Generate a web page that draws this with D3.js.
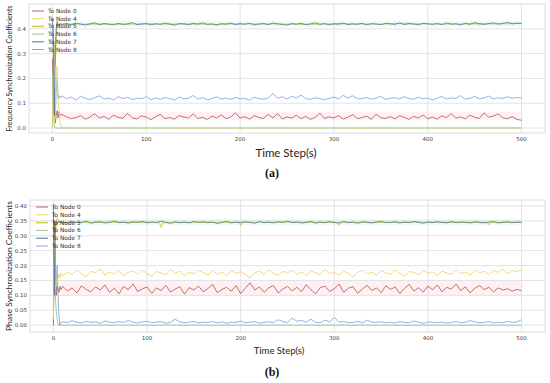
<!DOCTYPE html>
<html>
<head>
<meta charset="utf-8">
<script src="https://cdn.jsdelivr.net/npm/d3@7"></script>
<style>
body { margin: 0; background: #fff; }
svg { display: block; }
</style>
</head>
<body>
<div id="main"></div>
<script>
// time steps: fine near the start, then every 5 steps
var steps = [0,1,2,3,4,5,6,7,8,9].concat(d3.range(10, 501, 5));
var coarseSteps = [0,1,2,3,4,5,6,8,10].concat(d3.range(25, 501, 25));
var node5bSteps = [0,2,4,6,8,10,50,100,113,115,117,150,198,200,202,250,300,303,305,307,350,400,450,463,465,467,500];

var nodeNames = ["To Node 0","To Node 4","To Node 5","To Node 6","To Node 7","To Node 8"];
var nodeColors = ["#b5625c","#e8d86a","#c9d244","#9ec58e","#4f6f9c","#80aae2"];

var xTicks = [0,100,200,300,400,500];
var yTicksA = [0,0.1,0.2,0.3,0.4];
var yTicksB = [0,0.05,0.1,0.15,0.2,0.25,0.3,0.35,0.4];

// ---- panel (a): frequency ----
var freqNode0 = [0.28,0.12,0.03,0.02,0.05,0.07,0.04,0.065,0.05,0.055,
0.055,0.045,0.038,0.042,0.05,0.036,0.044,0.058,0.04,0.047,
0.035,0.052,0.043,0.039,0.06,0.041,0.037,0.049,0.044,0.034,
0.046,0.055,0.038,0.042,0.036,0.05,0.045,0.04,0.057,0.039,
0.043,0.035,0.048,0.041,0.053,0.038,0.044,0.062,0.04,0.046,
0.036,0.05,0.042,0.039,0.055,0.041,0.058,0.037,0.045,0.04,
0.052,0.038,0.047,0.035,0.043,0.06,0.039,0.045,0.041,0.05,
0.036,0.044,0.054,0.038,0.042,0.048,0.035,0.056,0.041,0.039,
0.046,0.037,0.05,0.043,0.035,0.047,0.04,0.053,0.038,0.044,
0.036,0.049,0.042,0.058,0.04,0.045,0.037,0.052,0.043,0.039,
0.061,0.044,0.048,0.057,0.041,0.038,0.046,0.035,0.031];
var freqNode4 = [0.10,0.05,0.02,0.08,0.20,0.25,0.12,0.02,0.003,
0.002,0.001,0.003,0.001,0.002,0.0,0.002,0.001,0.003,0.002,0.001,0.002,0.0,0.003,0.001,0.002,0.001,0.002,0.003,0.001];
var freqNode5 = [0.0,0.18,0.35,0.25,0.38,0.42,0.41,0.42,0.418,
0.419,0.42,0.418,0.421,0.419,0.42,0.417,0.421,0.42,0.419,0.418,0.421,0.42,0.419,0.422,0.42,0.419,0.421,0.42,0.422];
var freqNode6 = [0.22,0.10,0.01,0.0,0.0,0.0,0.0,0.0,0.0,
0,0,0,0,0,0,0,0,0,0,0,0,0,0,0,0,0,0,0,0];
var freqNode7 = [0.44,0.38,0.05,0.30,0.40,0.43,0.42,0.415,0.42,0.418,
0.418,0.421,0.416,0.423,0.419,0.415,0.42,0.424,0.417,0.421,
0.419,0.416,0.422,0.418,0.42,0.425,0.417,0.419,0.421,0.416,
0.42,0.418,0.423,0.419,0.415,0.421,0.42,0.417,0.422,0.419,
0.424,0.418,0.42,0.416,0.421,0.419,0.423,0.417,0.42,0.418,
0.422,0.416,0.419,0.421,0.417,0.423,0.42,0.418,0.415,0.421,
0.419,0.422,0.417,0.42,0.424,0.418,0.421,0.416,0.42,0.419,
0.423,0.417,0.42,0.418,0.422,0.416,0.421,0.419,0.417,0.422,
0.42,0.418,0.424,0.417,0.421,0.419,0.416,0.422,0.42,0.418,
0.421,0.417,0.423,0.419,0.42,0.416,0.422,0.418,0.425,0.42,
0.418,0.421,0.424,0.419,0.422,0.426,0.42,0.423,0.421];
var freqNode8 = [0.40,0.30,0.06,0.05,0.15,0.20,0.12,0.13,0.12,0.125,
0.13,0.118,0.125,0.112,0.128,0.12,0.115,0.122,0.13,0.117,
0.121,0.113,0.126,0.119,0.124,0.115,0.12,0.118,0.127,0.114,
0.121,0.116,0.123,0.119,0.113,0.125,0.118,0.12,0.131,0.116,
0.122,0.114,0.119,0.126,0.117,0.121,0.115,0.123,0.118,0.12,
0.112,0.124,0.119,0.116,0.121,0.139,0.12,0.126,0.117,0.128,
0.121,0.133,0.118,0.116,0.122,0.119,0.114,0.12,0.125,0.117,
0.132,0.121,0.13,0.118,0.119,0.123,0.116,0.121,0.128,0.115,
0.12,0.122,0.117,0.126,0.119,0.116,0.124,0.118,0.121,0.113,
0.12,0.127,0.117,0.122,0.119,0.131,0.116,0.12,0.127,0.118,
0.121,0.129,0.117,0.122,0.119,0.126,0.12,0.123,0.121];
var freqBands = [[0.032,0.065,"#fff0f3"],[0.408,0.432,"#ecfcfc"]];

// ---- panel (b): phase ----
var phaseNode0 = [0.0,0.35,0.15,0.10,0.13,0.12,0.11,0.13,0.12,0.125,
0.13,0.115,0.125,0.108,0.132,0.12,0.112,0.128,0.118,0.135,
0.11,0.124,0.105,0.13,0.119,0.138,0.113,0.122,0.128,0.107,
0.125,0.116,0.134,0.111,0.121,0.129,0.104,0.126,0.118,0.131,
0.112,0.123,0.137,0.109,0.12,0.127,0.114,0.133,0.106,0.124,
0.142,0.118,0.128,0.11,0.125,0.133,0.108,0.121,0.13,0.115,
0.127,0.112,0.136,0.119,0.105,0.126,0.131,0.113,0.122,0.138,
0.11,0.124,0.129,0.107,0.121,0.134,0.116,0.125,0.109,0.132,
0.12,0.128,0.106,0.123,0.137,0.114,0.126,0.111,0.131,0.119,
0.135,0.112,0.127,0.121,0.138,0.116,0.129,0.108,0.124,0.133,
0.119,0.127,0.112,0.125,0.118,0.122,0.114,0.12,0.116];
var phaseNode4 = [0.02,0.30,0.12,0.14,0.16,0.15,0.17,0.16,0.175,0.17,
0.165,0.178,0.17,0.185,0.172,0.163,0.181,0.176,0.188,0.168,
0.179,0.171,0.184,0.166,0.177,0.182,0.17,0.186,0.173,0.164,
0.18,0.175,0.169,0.187,0.174,0.181,0.166,0.178,0.172,0.185,
0.176,0.168,0.183,0.171,0.179,0.165,0.184,0.173,0.18,0.169,
0.158,0.176,0.182,0.17,0.186,0.174,0.167,0.18,0.176,0.184,
0.171,0.179,0.166,0.183,0.175,0.17,0.187,0.173,0.178,0.168,
0.181,0.174,0.162,0.177,0.185,0.171,0.179,0.167,0.183,0.176,
0.17,0.186,0.173,0.164,0.18,0.177,0.169,0.184,0.174,0.179,
0.166,0.182,0.175,0.171,0.187,0.173,0.178,0.168,0.185,0.176,
0.181,0.17,0.184,0.177,0.188,0.172,0.183,0.179,0.186];
var phaseNode5 = [0.05,0.30,0.36,0.345,0.346,0.345,0.345,0.346,0.345,0.328,0.344,0.345,0.345,0.335,0.345,
0.346,0.345,0.344,0.336,0.345,0.345,0.346,0.345,0.344,0.337,0.345,0.345];
var phaseNode6 = [0.30,0.20,0.10,0.05,0.02,0.0,0.0,0.0,0.0,
0,0,0,0,0,0,0,0,0,0,0,0,0,0,0,0,0,0,0,0];
var phaseNode7 = [0.40,0.10,0.33,0.35,0.34,0.345,0.35,0.344,0.346,0.343,
0.346,0.343,0.348,0.344,0.345,0.349,0.342,0.346,0.347,0.343,
0.345,0.35,0.344,0.346,0.342,0.347,0.345,0.348,0.343,0.346,
0.344,0.349,0.345,0.342,0.347,0.344,0.346,0.343,0.348,0.345,
0.347,0.344,0.346,0.341,0.345,0.348,0.343,0.346,0.344,0.347,
0.345,0.342,0.348,0.344,0.346,0.343,0.347,0.345,0.349,0.344,
0.346,0.343,0.345,0.348,0.342,0.346,0.344,0.347,0.345,0.343,
0.348,0.344,0.346,0.342,0.347,0.345,0.343,0.346,0.349,0.344,
0.345,0.347,0.343,0.346,0.344,0.348,0.345,0.342,0.346,0.344,
0.347,0.345,0.343,0.348,0.344,0.346,0.345,0.343,0.347,0.345,
0.344,0.346,0.348,0.343,0.345,0.347,0.344,0.346,0.345];
var phaseNode8 = [0.38,0.30,0.20,0.12,0.20,0.10,0.03,0.0,0.01,0.008,
0.012,0.008,0.015,0.01,0.007,0.013,0.009,0.011,0.006,0.014,
0.01,0.008,0.012,0.009,0.016,0.01,0.007,0.011,0.013,0.008,
0.01,0.012,0.006,0.009,0.02,0.011,0.008,0.01,0.013,0.007,
0.01,0.009,0.012,0.008,0.011,0.006,0.01,0.009,0.014,0.008,
0.01,0.012,0.007,0.009,0.011,0.008,0.018,0.012,0.009,0.024,
0.013,0.016,0.01,0.02,0.009,0.008,0.017,0.011,0.026,0.01,
0.012,0.008,0.009,0.013,0.007,0.017,0.01,0.009,0.011,0.008,
0.01,0.007,0.012,0.009,0.008,0.014,0.01,0.006,0.011,0.009,
0.008,0.01,0.007,0.009,0.012,0.008,0.01,0.015,0.011,0.008,
0.009,0.012,0.007,0.01,0.008,0.013,0.009,0.011,0.018];
var phaseBands = [[0.10,0.148,"#fff0f3"],[0.336,0.356,"#ecfcfc"]];

var svg = d3.select("#main").append("svg").attr("width", 550).attr("height", 383);

function draw_panel(opt){
	var x = d3.scaleLinear().domain([-25, 525]).range([opt.left, opt.right]);
	var y = d3.scaleLinear().domain(opt.yDomain).range([opt.bottom, opt.top]);
	var g = svg.append("g");

	// faint bands behind the lines
	g.selectAll(".band").data(opt.bands).enter().append("rect")
		.attr("x", x(8)).attr("width", x(500) - x(8))
		.attr("y", function(d){ return y(d[1]); })
		.attr("height", function(d){ return y(d[0]) - y(d[1]); })
		.attr("fill", function(d){ return d[2]; });

	// grid
	g.selectAll(".vg").data(xTicks).enter().append("line")
		.attr("x1", function(d){ return x(d); }).attr("x2", function(d){ return x(d); })
		.attr("y1", opt.top).attr("y2", opt.bottom)
		.attr("stroke", "#dcdcdc").attr("stroke-width", 0.8);
	g.selectAll(".hg").data(opt.yTicks).enter().append("line")
		.attr("y1", function(d){ return y(d); }).attr("y2", function(d){ return y(d); })
		.attr("x1", opt.left).attr("x2", opt.right)
		.attr("stroke", "#dcdcdc").attr("stroke-width", 0.8);

	// frame
	g.append("rect").attr("x", opt.left).attr("y", opt.top)
		.attr("width", opt.right - opt.left).attr("height", opt.bottom - opt.top)
		.attr("fill", "none").attr("stroke", "#d4d4d4").attr("stroke-width", 0.8);

	// tick labels
	g.selectAll(".xt").data(xTicks).enter().append("text")
		.attr("x", function(d){ return x(d); }).attr("y", opt.bottom + 7.5)
		.attr("text-anchor", "middle").attr("font-size", 5.5)
		.attr("font-family", "DejaVu Sans, sans-serif").attr("fill", "#444")
		.text(function(d){ return d; });
	g.selectAll(".yt").data(opt.yTicks).enter().append("text")
		.attr("x", opt.left - 3).attr("y", function(d){ return y(d) + 2; })
		.attr("text-anchor", "end").attr("font-size", 5.5)
		.attr("font-family", "DejaVu Sans, sans-serif").attr("fill", "#444")
		.text(function(d){ return d3.format(opt.yFormat)(d); });

	// series
	var line = d3.line()
		.x(function(d){ return x(d[0]); })
		.y(function(d){ return y(d[1]); });
	opt.series.forEach(function(s){
		var pts = s.steps.map(function(t, i){ return [t, s.values[i]]; });
		g.append("path").datum(pts)
			.attr("d", line)
			.attr("fill", "none")
			.attr("stroke", nodeColors[s.node])
			.attr("stroke-width", s.width || 0.9)
			.attr("stroke-opacity", s.opacity || 1)
			.attr("stroke-linejoin", "round");
	});

	// legend
	var leg = g.append("g");
	nodeNames.forEach(function(name, i){
		var ly = opt.legendY + i * opt.legendGap;
		leg.append("line")
			.attr("x1", opt.legendX).attr("x2", opt.legendX + 12)
			.attr("y1", ly).attr("y2", ly)
			.attr("stroke", nodeColors[i]).attr("stroke-width", i == 2 ? 1.6 : 1);
		leg.append("text")
			.attr("x", opt.legendX + 16).attr("y", ly + 2)
			.attr("font-size", 5.8).attr("font-family", "DejaVu Sans, sans-serif")
			.attr("fill", "#333").text(name);
	});

	// axis titles
	g.append("text")
		.attr("transform", "translate(" + opt.yLabelX + "," + ((opt.top + opt.bottom) / 2) + ") rotate(-90)")
		.attr("text-anchor", "middle").attr("font-size", opt.yLabelSize)
		.attr("font-family", "Lato, Open Sans, sans-serif").attr("fill", "#222")
		.attr("textLength", opt.yLabelLen).attr("lengthAdjust", "spacingAndGlyphs")
		.text(opt.yLabel);
	g.append("text")
		.attr("x", opt.xLabelX).attr("y", opt.xLabelY)
		.attr("text-anchor", "middle").attr("font-size", opt.xLabelSize)
		.attr("font-family", "Lato, Open Sans, sans-serif").attr("fill", "#222")
		.text("Time Step(s)");
	g.append("text")
		.attr("x", 272).attr("y", opt.capY)
		.attr("text-anchor", "middle").attr("font-size", 12).attr("font-weight", "bold")
		.attr("font-family", "Liberation Serif, DejaVu Serif, serif").attr("fill", "#111")
		.text(opt.caption);
}

draw_panel({
	left: 29, right: 545, top: 4, bottom: 133,
	yDomain: [-0.02, 0.5], yTicks: yTicksA, yFormat: ".1f",
	bands: freqBands,
	series: [
		{node: 5, steps: steps, values: freqNode8},
		{node: 0, steps: steps, values: freqNode0},
		{node: 3, steps: coarseSteps, values: freqNode6},
		{node: 1, steps: coarseSteps, values: freqNode4},
		{node: 2, steps: coarseSteps, values: freqNode5, width: 1.2, opacity: 0.8},
		{node: 4, steps: steps, values: freqNode7, opacity: 0.85}
	],
	legendX: 32, legendY: 11, legendGap: 7.7,
	yLabel: "Frequency Synchronization Coefficients", yLabelX: 12, yLabelSize: 7.2, yLabelLen: 126,
	xLabelX: 286, xLabelY: 157, xLabelSize: 11.5,
	capY: 177, caption: "(a)"
});

draw_panel({
	left: 30, right: 545, top: 200, bottom: 332,
	yDomain: [-0.023, 0.42], yTicks: yTicksB, yFormat: ".2f",
	bands: phaseBands,
	series: [
		{node: 3, steps: coarseSteps, values: phaseNode6},
		{node: 5, steps: steps, values: phaseNode8},
		{node: 0, steps: steps, values: phaseNode0},
		{node: 1, steps: steps, values: phaseNode4},
		{node: 2, steps: node5bSteps, values: phaseNode5, width: 1.2, opacity: 0.8},
		{node: 4, steps: steps, values: phaseNode7, opacity: 0.85}
	],
	legendX: 36, legendY: 207, legendGap: 7.8,
	yLabel: "Phase Synchronization Coefficients", yLabelX: 12, yLabelSize: 8, yLabelLen: 130,
	xLabelX: 279, xLabelY: 354, xLabelSize: 9.5,
	capY: 376, caption: "(b)"
});
</script>
</body>
</html>
